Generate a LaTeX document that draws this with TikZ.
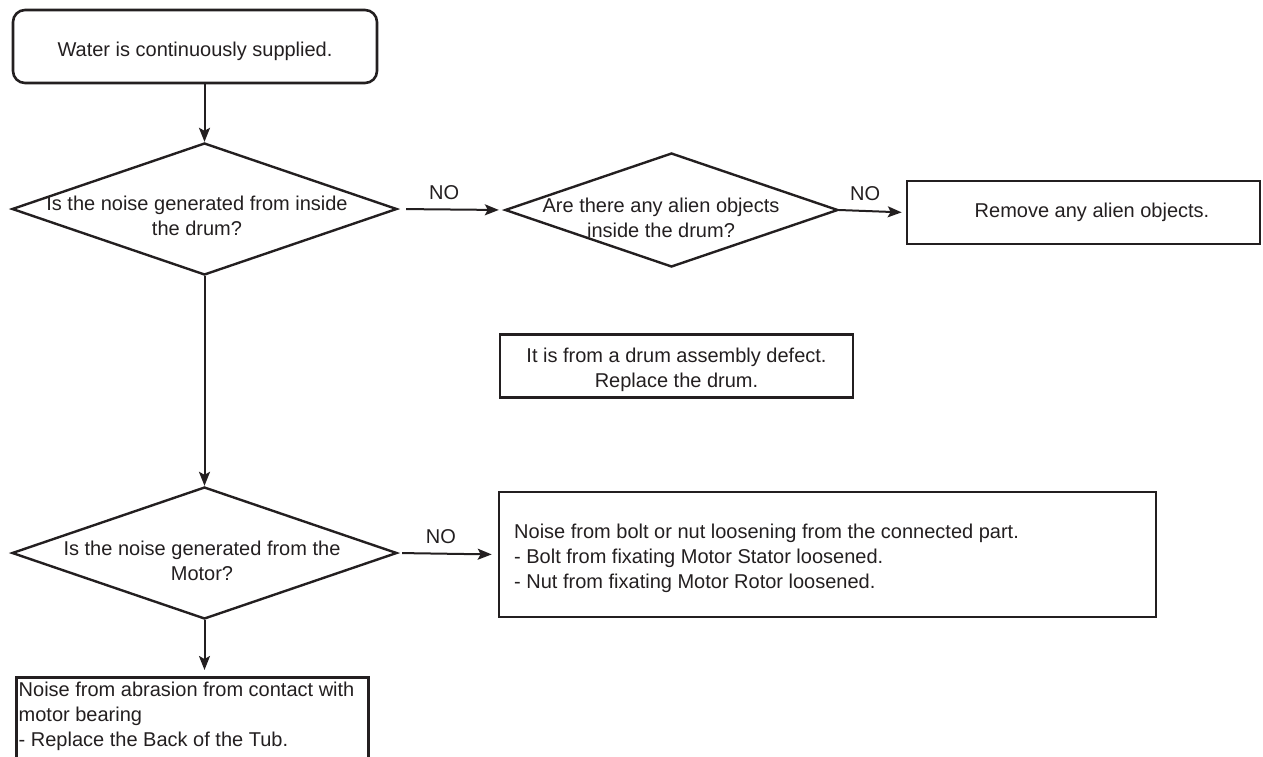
\documentclass[tikz,border=0pt]{standalone}
\usepackage{fontspec}
\setmainfont{Liberation Sans}
\usetikzlibrary{arrows.meta,shapes.geometric}
\definecolor{ink}{RGB}{35,31,32}
\begin{document}
\begin{tikzpicture}[x=1pt,y=-1pt,
  every node/.style={font=\fontsize{20}{25}\selectfont, text=ink},
  box/.style={draw=ink, line width=2.6pt, inner sep=0pt},
  txt/.style={inner sep=0pt, align=center},
  dia/.style={draw=ink, line width=2.4pt, diamond, inner sep=0pt,
              minimum width=385pt, minimum height=132pt},
  arr/.style={draw=ink, line width=2pt, -{Stealth[length=14pt,width=11pt,inset=3pt]}},
  lbl/.style={above=9pt, inner sep=0pt}]
\useasboundingbox (0,0) rectangle (1263,756);
\clip (0,0) rectangle (1263,756);

% start
\node[box, rounded corners=12pt, minimum width=364pt, minimum height=73pt] (start) at (195,46.5) {};
\node[txt] (startt) at (195,51.5) {Water is continuously supplied.};

% decision 1
\node[dia] (d1) at (204.5,209) {};
\node[txt] (t1) at (197,216) {Is the noise generated from inside\\the drum?};

% decision 2
\node[dia, minimum width=333pt, minimum height=114pt] (d2) at (671.5,210) {};
\node[txt] (t2) at (661,218) {Are there any alien objects\\inside the drum?};

% remove box
\node[box, minimum width=353pt, minimum height=63pt] (rm) at (1083.5,212.5) {};
\node[txt] (rmt) at (1092,212.5) {Remove any alien objects.};

% drum box
\node[box, minimum width=353pt, minimum height=63pt] (drum) at (676.5,366) {};
\node[txt] (drumt) at (676.5,370) {It is from a drum assembly defect.\\Replace the drum.};

% decision 3
\node[dia] (d3) at (204.5,553) {};
\node[txt] (t3) at (202,561) {Is the noise generated from the\\Motor?};

% bolt box
\node[box, minimum width=657pt, minimum height=125pt] (bolt) at (827.5,554.5) {};
\node[txt, anchor=north west, align=left] (boltt) at (514,523.7)
 {Noise from bolt or nut loosening from the connected part.\\- Bolt from fixating Motor Stator loosened.\\- Nut from fixating Motor Rotor loosened.};

% bottom box
\node[box, anchor=north west, minimum width=352pt, minimum height=130pt] (bot) at (15,676) {};
\node[txt, anchor=north west, align=left] (bott) at (18.5,681.5)
 {Noise from abrasion from contact with\\motor bearing\\- Replace the Back of the Tub.};

% connectors
\draw[arr] (start.south -| d1.north) -- (d1.north);
\draw[arr, shorten <=8pt, shorten >=5pt] (d1.east) -- node[lbl, pos=0.435] (no1) {NO} (d2.west);
\draw[arr, shorten >=4pt] (d2.east) -- node[lbl, pos=0.39] (no2) {NO} (rm.west);
\draw[arr] (d1.south) -- (d3.north);
\draw[arr, shorten <=4pt, shorten >=6pt] (d3.east) -- node[lbl, pos=0.43] (no3) {NO} (bolt.west);
\draw[arr, shorten >=6pt] (d3.south) -- (d3.south |- bot.north);
\end{tikzpicture}
\end{document}
